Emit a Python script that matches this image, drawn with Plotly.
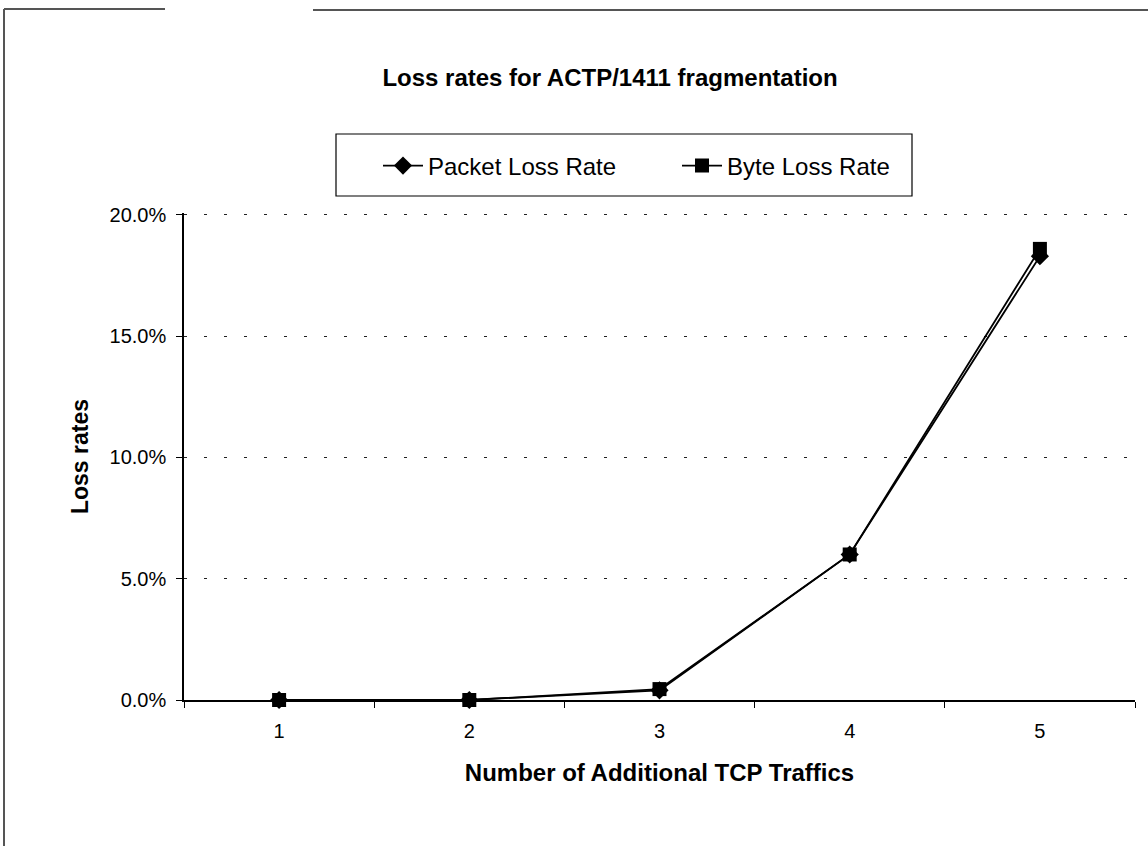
import plotly.graph_objects as go

categories = ["1", "2", "3", "4", "5"]
packet_loss = [0.0, 0.0, 0.004, 0.060, 0.183]
byte_loss = [0.0, 0.0, 0.0045, 0.060, 0.186]
y_ticks = [0.0, 0.05, 0.10, 0.15, 0.20]
y_max = 0.2008

W, H = 1148, 846
L, R, T, B = 184, 1135, 213, 700


def px(x):
    return (x - L) / (R - L)


def py(y):
    return (B - y) / (B - T)


FONT = "Liberation Sans, Arial, sans-serif"

fig = go.Figure()
fig.add_trace(go.Scatter(
    x=categories, y=packet_loss, name="Packet Loss Rate", mode="lines+markers",
    line=dict(color="black", width=1.8), cliponaxis=False,
    marker=dict(symbol="diamond", size=14, color="black"),
))
fig.add_trace(go.Scatter(
    x=categories, y=byte_loss, name="Byte Loss Rate", mode="lines+markers",
    line=dict(color="black", width=1.8), cliponaxis=False,
    marker=dict(symbol="square", size=14, color="black"),
))

fig.update_layout(
    width=W, height=H,
    margin=dict(l=L, r=W - R, t=T, b=H - B),
    paper_bgcolor="white", plot_bgcolor="white",
    font=dict(family=FONT, color="black"),
    title=dict(text="<b>Loss rates for ACTP/1411 fragmentation</b>",
               x=610 / W, xanchor="center", y=1 - 78 / H, yanchor="middle",
               font=dict(size=24, family=FONT, color="black")),
    showlegend=True,
    legend=dict(orientation="h", x=px(378), xanchor="left", y=py(166), yanchor="middle",
                font=dict(size=24, family=FONT, color="black"),
                bgcolor="rgba(0,0,0,0)", borderwidth=0, entrywidth=244,
                itemwidth=40),
    xaxis=dict(
        type="category", range=[-0.5, 4.5],
        showline=True, linecolor="black", linewidth=1.5,
        ticks="outside", ticklen=6, tickcolor="black", tickson="boundaries",
        showgrid=False, zeroline=False, ticklabelstandoff=12,
        tickfont=dict(size=20, family=FONT, color="black"),
        title=dict(text="<b>Number of Additional TCP Traffics</b>", standoff=23,
                   font=dict(size=24, family=FONT, color="black")),
    ),
    yaxis=dict(
        range=[0, y_max], tickvals=y_ticks, tickformat=".1%",
        showline=True, linecolor="black", linewidth=1.5,
        ticks="outside", ticklen=6, tickcolor="black",
        showgrid=True, gridcolor="#222222", gridwidth=1, griddash="3px,17px",
        zeroline=False, ticklabelstandoff=6,
        tickfont=dict(size=20, family=FONT, color="black"),
        title=dict(text="<b>Loss rates</b>", standoff=14,
                   font=dict(size=23, family=FONT, color="black")),
    ),
    shapes=[
        # legend box
        dict(type="rect", xref="paper", yref="paper",
             x0=px(336), x1=px(912), y0=py(196), y1=py(134),
             line=dict(color="black", width=1.2), fillcolor="rgba(0,0,0,0)"),
        # outer frame
        dict(type="line", xref="paper", yref="paper",
             x0=px(4), x1=px(4), y0=py(9), y1=py(846),
             line=dict(color="#555555", width=2)),
        dict(type="line", xref="paper", yref="paper",
             x0=px(4), x1=px(165), y0=py(9), y1=py(9),
             line=dict(color="#555555", width=2)),
        dict(type="line", xref="paper", yref="paper",
             x0=px(313), x1=px(1148), y0=py(10), y1=py(10),
             line=dict(color="#555555", width=2)),
    ],
)

fig.write_html("out.html", config={"displayModeBar": False},
               post_script="document.body.style.margin='0';")
